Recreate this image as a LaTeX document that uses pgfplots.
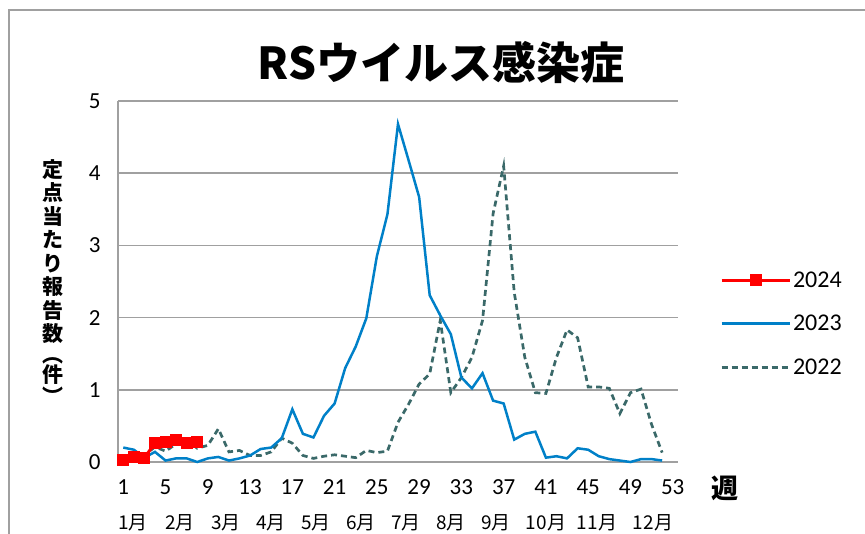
\documentclass[border=0pt]{standalone}
\usepackage{pgfplots}
\pgfplotsset{compat=1.18}
\usepackage{fontspec}
\setmainfont{Carlito}
\newfontfamily\jp{Noto Sans CJK JP}
\definecolor{c23}{RGB}{0,128,200}
\definecolor{c22}{RGB}{58,105,105}
\definecolor{gridc}{RGB}{160,160,160}
\begin{document}
\begin{tikzpicture}[x=1pt,y=1pt]
\useasboundingbox (0,0) rectangle (865,533);
\draw[gridc, line width=1.5pt] (9,-20) -- (9,523) -- (885,523);
\begin{axis}[
  at={(118pt,71pt)}, anchor=south west,
  scale only axis, width=560pt, height=361pt,
  xmin=0.5, xmax=53.5, ymin=0, ymax=5,
  xtick={1,5,...,53}, ytick={0,1,...,5},
  ymajorgrids, grid style={gridc, line width=1.5pt},
  axis x line*=bottom, axis y line*=left,
  axis line style={gridc, line width=1.5pt, -},
  major tick length=0pt,
  tick label style={font=\fontsize{23}{23}\selectfont},
  xticklabel style={yshift=-14pt},
  yticklabel style={xshift=-14pt},
  /pgf/number format/assume math mode=true,
  clip=false,
  reverse legend,
  legend cell align=left,
  legend style={at={(1.075,0.383)}, anchor=west, draw=none, fill=none,
    inner sep=0pt, outer sep=0pt, font=\fontsize{24}{24}\selectfont,
    row sep=22.5pt,
    /tikz/every even column/.append style={column sep=2pt}},
  legend image code/.code={\draw[mark repeat=2,mark phase=2,#1] plot coordinates {(0pt,0pt)(34pt,0pt)(68pt,0pt)};},
]
\addplot[c22, line width=2.7pt, dash pattern=on 6pt off 4pt, no marks] coordinates {
(1,0.01)(2,0.03)(3,0.09)(4,0.21)(5,0.15)(6,0.25)(7,0.32)(8,0.19)(9,0.23)(10,0.46)
(11,0.14)(12,0.16)(13,0.09)(14,0.09)(15,0.14)(16,0.33)(17,0.26)(18,0.09)(19,0.05)(20,0.08)
(21,0.10)(22,0.08)(23,0.06)(24,0.16)(25,0.13)(26,0.15)(27,0.55)(28,0.80)(29,1.08)(30,1.22)
(31,1.96)(32,0.96)(33,1.17)(34,1.45)(35,1.96)(36,3.44)(37,4.10)(38,2.35)(39,1.45)(40,0.96)
(41,0.95)(42,1.45)(43,1.83)(44,1.72)(45,1.04)(46,1.04)(47,1.02)(48,0.67)(49,0.96)(50,1.01)
(51,0.52)(52,0.13)};
\addlegendentry{2022}
\addplot[c23, line width=2.5pt, no marks] coordinates {
(1,0.20)(2,0.17)(3,0.06)(4,0.14)(5,0.02)(6,0.05)(7,0.05)(8,0.00)(9,0.05)(10,0.07)
(11,0.02)(12,0.05)(13,0.09)(14,0.18)(15,0.20)(16,0.33)(17,0.73)(18,0.39)(19,0.34)(20,0.64)
(21,0.81)(22,1.30)(23,1.60)(24,1.99)(25,2.85)(26,3.43)(27,4.68)(28,4.18)(29,3.67)(30,2.31)
(31,2.03)(32,1.77)(33,1.17)(34,1.02)(35,1.23)(36,0.85)(37,0.81)(38,0.31)(39,0.39)(40,0.42)
(41,0.06)(42,0.08)(43,0.05)(44,0.19)(45,0.17)(46,0.08)(47,0.04)(48,0.02)(49,0.00)(50,0.04)
(51,0.04)(52,0.02)};
\addlegendentry{2023}
\addplot[red, line width=3pt, mark=square*, mark size=4.5pt, mark options={solid}] coordinates {
(1,0.03)(2,0.07)(3,0.06)(4,0.26)(5,0.28)(6,0.30)(7,0.27)(8,0.28)};
\addlegendentry{2024}
\end{axis}
\node[font=\jp\bfseries\fontsize{44}{44}\selectfont] at (441,471) {RSウイルス感染症};
\node[font=\jp\bfseries\fontsize{27}{27}\selectfont] at (725,45) {週};
\node[font=\jp\bfseries\fontsize{21}{23.5}\selectfont, align=center, anchor=north, inner sep=0pt] at (53,374) {定\\点\\当\\た\\り\\報\\告\\数\\[-3pt]︵\\[-3pt]件\\[-2pt]︶};
\foreach \x/\m in {133/1月,180/2月,226/3月,271/4月,316/5月,361/6月,406/7月,451/8月,496/9月,546/10月,597/11月,653/12月}
  \node[font=\jp\fontsize{19}{19}\selectfont] at (\x,10) {\m};
\end{tikzpicture}
\end{document}
